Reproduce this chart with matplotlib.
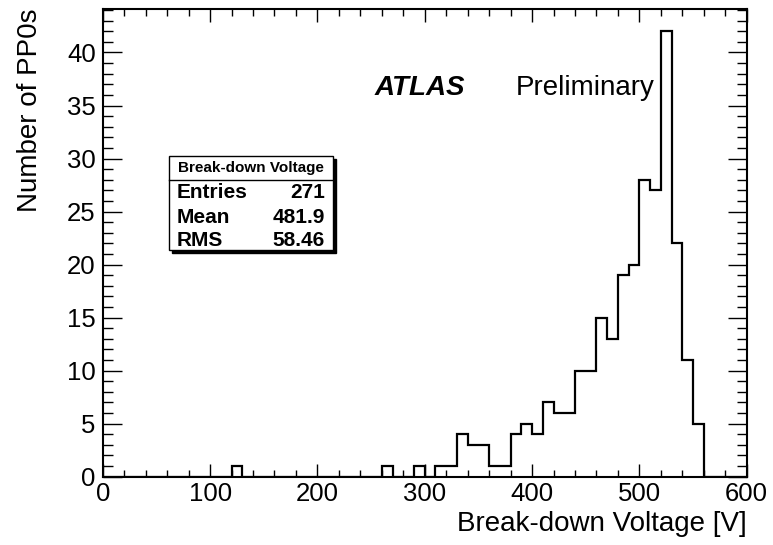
import numpy as np
import matplotlib
matplotlib.use("Agg")
import matplotlib.pyplot as plt
from matplotlib.patches import Rectangle
from matplotlib.ticker import MultipleLocator

plt.rcParams['font.family'] = ['Liberation Sans', 'DejaVu Sans']

# Break-down voltage histogram, 10 V bins from 0 to 600 V
bin_edges = np.arange(0, 610, 10)
counts = np.zeros(60)
filled_bins = [120, 260, 290, 310, 320, 330, 340, 350, 360, 370,
               380, 390, 400, 410, 420, 430, 440, 450, 460, 470,
               480, 490, 500, 510, 520, 530, 540, 550]
filled_counts = [1, 1, 1, 1, 1, 4, 3, 3, 1, 1,
                 4, 5, 4, 7, 6, 6, 10, 10, 15, 13,
                 19, 20, 28, 27, 42, 22, 11, 5]
for lo, n in zip(filled_bins, filled_counts):
    counts[lo // 10] = n

stat_names = ['Entries', 'Mean', 'RMS']
stat_values = ['271', '481.9', '58.46']

fig = plt.figure(figsize=(7.73, 5.45), dpi=100)
ax = fig.add_axes([0.1329, 0.1253, 0.8331, 0.8582])

ax.stairs(counts, bin_edges, color='black', linewidth=1.6)

ax.set_xlim(0, 600)
ax.set_ylim(0, counts.max() * 1.05)

for s in ax.spines.values():
    s.set_linewidth(1.5)

ax.xaxis.set_major_locator(MultipleLocator(100))
ax.xaxis.set_minor_locator(MultipleLocator(20))
ax.yaxis.set_major_locator(MultipleLocator(5))
ax.yaxis.set_minor_locator(MultipleLocator(1))
ax.tick_params(which='both', direction='in', top=True, right=True,
               labelsize=18.5, width=1.0)
ax.tick_params(axis='x', which='major', length=9.5, pad=4)
ax.tick_params(axis='x', which='minor', length=5)
ax.tick_params(axis='y', which='major', length=13.5, pad=5)
ax.tick_params(axis='y', which='minor', length=7)

fig.text(0.0388, 0.9835, 'Number of PP0s', rotation=90,
         ha='center', va='top', fontsize=20)
fig.text(0.966, 0.026, 'Break-down Voltage [V]',
         ha='right', va='baseline', fontsize=20)

ax.text(0.4228, 0.831, 'ATLAS', transform=ax.transAxes, fontsize=20,
        fontweight='bold', fontstyle='italic', ha='left', va='center')
ax.text(0.6418, 0.831, 'Preliminary', transform=ax.transAxes, fontsize=20,
        ha='left', va='center')

# statistics box with shadow
bx0, bx1, by0, by1 = 0.2186, 0.4308, 0.5413, 0.7138
sx, sy = 3 / 773, 3 / 545
fig.patches.append(Rectangle((bx0 + sx, by0 - sy), bx1 - bx0, by1 - by0,
                             transform=fig.transFigure, facecolor='black',
                             edgecolor='black', linewidth=1.0, zorder=5))
fig.patches.append(Rectangle((bx0, by0), bx1 - bx0, by1 - by0,
                             transform=fig.transFigure, facecolor='white',
                             edgecolor='black', linewidth=1.0, zorder=6))
fig.add_artist(plt.Line2D([bx0, bx1], [0.6697, 0.6697],
                          transform=fig.transFigure, color='black',
                          linewidth=1.0, zorder=7))
fig.text((bx0 + bx1) / 2, 0.6917, 'Break-down Voltage', ha='center',
         va='center', fontsize=11, fontweight='bold', zorder=8)
for name, val, y in zip(stat_names, stat_values, [0.6459, 0.6018, 0.5578]):
    fig.text(0.2286, y, name, ha='left', va='center', fontsize=15,
             fontweight='bold', zorder=8)
    fig.text(0.4204, y, val, ha='right', va='center', fontsize=15,
             fontweight='bold', zorder=8)

fig.savefig('out.png', dpi=100)
